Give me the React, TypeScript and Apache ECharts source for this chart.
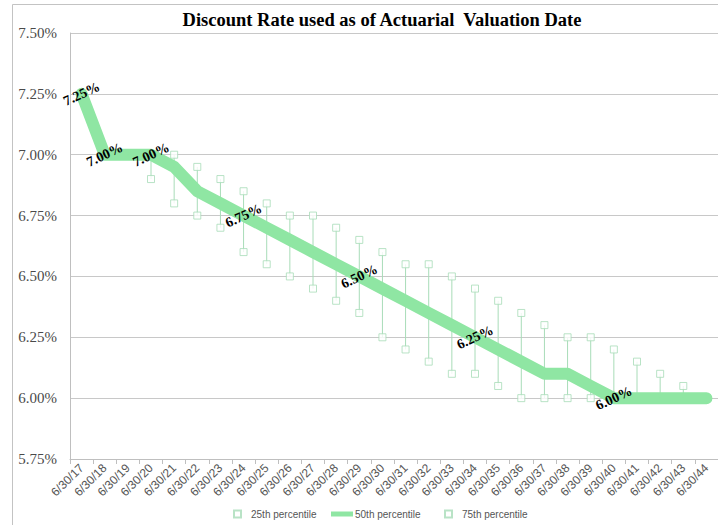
import React, { useEffect, useRef } from "react";
import * as echarts from "echarts";

const categories = [
  "6/30/17", "6/30/18", "6/30/19", "6/30/20", "6/30/21", "6/30/22", "6/30/23",
  "6/30/24", "6/30/25", "6/30/26", "6/30/27", "6/30/28", "6/30/29", "6/30/30",
  "6/30/31", "6/30/32", "6/30/33", "6/30/34", "6/30/35", "6/30/36", "6/30/37",
  "6/30/38", "6/30/39", "6/30/40", "6/30/41", "6/30/42", "6/30/43", "6/30/44",
];

const p75 = [
  7.25, 7.0, 7.0, 7.0, 7.0, 6.95, 6.9, 6.85, 6.8, 6.75, 6.75, 6.7, 6.65, 6.6,
  6.55, 6.55, 6.5, 6.45, 6.4, 6.35, 6.3, 6.25, 6.25, 6.2, 6.15, 6.1, 6.05, 6.0,
];

const p50 = [
  7.25, 7.0, 7.0, 7.0, 6.95, 6.85, 6.8, 6.75, 6.7, 6.65, 6.6, 6.55, 6.5, 6.45,
  6.4, 6.35, 6.3, 6.25, 6.2, 6.15, 6.1, 6.1, 6.05, 6.0, 6.0, 6.0, 6.0, 6.0,
];

const p25 = [
  7.25, 7.0, 7.0, 6.9, 6.8, 6.75, 6.7, 6.6, 6.55, 6.5, 6.45, 6.4, 6.35, 6.25,
  6.2, 6.15, 6.1, 6.1, 6.05, 6.0, 6.0, 6.0, 6.0, 6.0, 6.0, 6.0, 6.0, 6.0,
];

const labeledIdx = [0, 1, 3, 7, 12, 17, 23];

const yMin = 5.75;
const yMax = 7.5;
const yStep = 0.25;

const titleText = "Discount Rate used as of Actuarial  Valuation Date";

export default function App() {
  const ref = useRef<HTMLDivElement>(null);

  useEffect(() => {
    if (!ref.current) return;
    const chart = echarts.init(ref.current, null, { renderer: "svg" });
    const serif = "Liberation Serif, Times New Roman, serif";
    const narrow = "Liberation Sans Narrow, Liberation Sans, sans-serif";
    const barColor = "#a8dcb8";
    const lineColor = "#8fe6a3";
    const grey = "#555555";

    const legendText = {
      fontFamily: narrow,
      fontSize: 10,
      color: grey,
    };

    chart.setOption({
      animation: false,
      title: {
        text: titleText,
        left: 377,
        top: 5,
        textAlign: "center",
        textStyle: {
          fontFamily: serif,
          fontWeight: "bold",
          fontSize: 18.5,
          color: "#000",
        },
      },
      graphic: [
        {
          type: "rect",
          silent: true,
          z: -10,
          shape: { x: 12.5, y: 4.5, width: 730, height: 540 },
          style: { fill: "none", stroke: "#c3c3c3", lineWidth: 1 },
        },
      ],
      grid: { left: 70, right: -4, top: 33, bottom: 66 },
      xAxis: {
        type: "category",
        data: categories,
        boundaryGap: true,
        axisLine: { show: true, lineStyle: { color: "#bfbfbf" } },
        axisTick: { show: true, length: 5, lineStyle: { color: "#bfbfbf" } },
        axisLabel: {
          rotate: 45,
          interval: 0,
          margin: 7,
          fontFamily: narrow,
          fontSize: 12,
          color: grey,
        },
        splitLine: { show: false },
      },
      yAxis: {
        type: "value",
        min: yMin,
        max: yMax,
        interval: yStep,
        axisLine: { show: true, lineStyle: { color: "#bfbfbf" } },
        axisTick: { show: false },
        splitLine: { show: true, lineStyle: { color: "#c8c8c8" } },
        axisLabel: {
          formatter: (v: number) => v.toFixed(2) + "%",
          fontFamily: serif,
          fontSize: 15,
          color: "#4a4a4a",
          margin: 13,
        },
      },
      legend: [
        {
          data: [{ name: "25th percentile", icon: "rect" }],
          left: 228,
          top: 504,
          itemWidth: 7,
          itemHeight: 7,
          selectedMode: false,
          textStyle: { ...legendText, padding: [0, 0, 0, 5] },
        },
        {
          data: [{ name: "50th percentile", icon: "rect" }],
          left: 326,
          top: 504,
          itemWidth: 22,
          itemHeight: 5,
          selectedMode: false,
          textStyle: { ...legendText, padding: [0, 0, 0, -3] },
        },
        {
          data: [{ name: "75th percentile", icon: "rect" }],
          left: 439,
          top: 504,
          itemWidth: 7,
          itemHeight: 7,
          selectedMode: false,
          textStyle: { ...legendText, padding: [0, 0, 0, 5] },
        },
      ],
      series: [
        {
          type: "custom",
          name: "range",
          silent: true,
          z: 1,
          encode: { x: 0, y: [1, 2] },
          data: categories.map((_, i) => [i, p25[i], p75[i]]),
          renderItem: (params: any, api: any) => {
            const x = api.value(0);
            const lo = api.coord([x, api.value(1)]);
            const hi = api.coord([x, api.value(2)]);
            return {
              type: "line",
              shape: { x1: lo[0], y1: lo[1], x2: hi[0], y2: hi[1] },
              style: { stroke: barColor, lineWidth: 1 },
            };
          },
        },
        {
          type: "scatter",
          name: "25th percentile",
          data: p25,
          symbol: "rect",
          symbolSize: 7,
          silent: true,
          z: 2,
          itemStyle: { color: "#ffffff", borderColor: barColor, borderWidth: 1 },
        },
        {
          type: "line",
          name: "50th percentile",
          z: 3,
          silent: true,
          showAllSymbol: true,
          symbol: "circle",
          symbolSize: 1,
          itemStyle: { color: lineColor },
          lineStyle: { width: 12, color: lineColor, cap: "round", join: "round" },
          label: {
            show: false,
            position: "inside",
            rotate: 25,
            align: "center",
            verticalAlign: "middle",
            fontFamily: serif,
            fontWeight: "bold",
            fontSize: 14,
            color: "#000",
            formatter: (p: any) => Number(p.value).toFixed(2) + "%",
          },
          data: p50.map((v, i) =>
            labeledIdx.includes(i) ? { value: v, label: { show: true } } : v
          ),
        },
        {
          type: "scatter",
          name: "75th percentile",
          data: p75,
          symbol: "rect",
          symbolSize: 7,
          silent: true,
          z: 2,
          itemStyle: { color: "#ffffff", borderColor: barColor, borderWidth: 1 },
        },
      ],
    });

    return () => {
      chart.dispose();
    };
  }, []);

  return (
    <div
      ref={ref}
      style={{ position: "fixed", left: 0, top: 0, width: 718, height: 525, background: "#fff" }}
    />
  );
}
